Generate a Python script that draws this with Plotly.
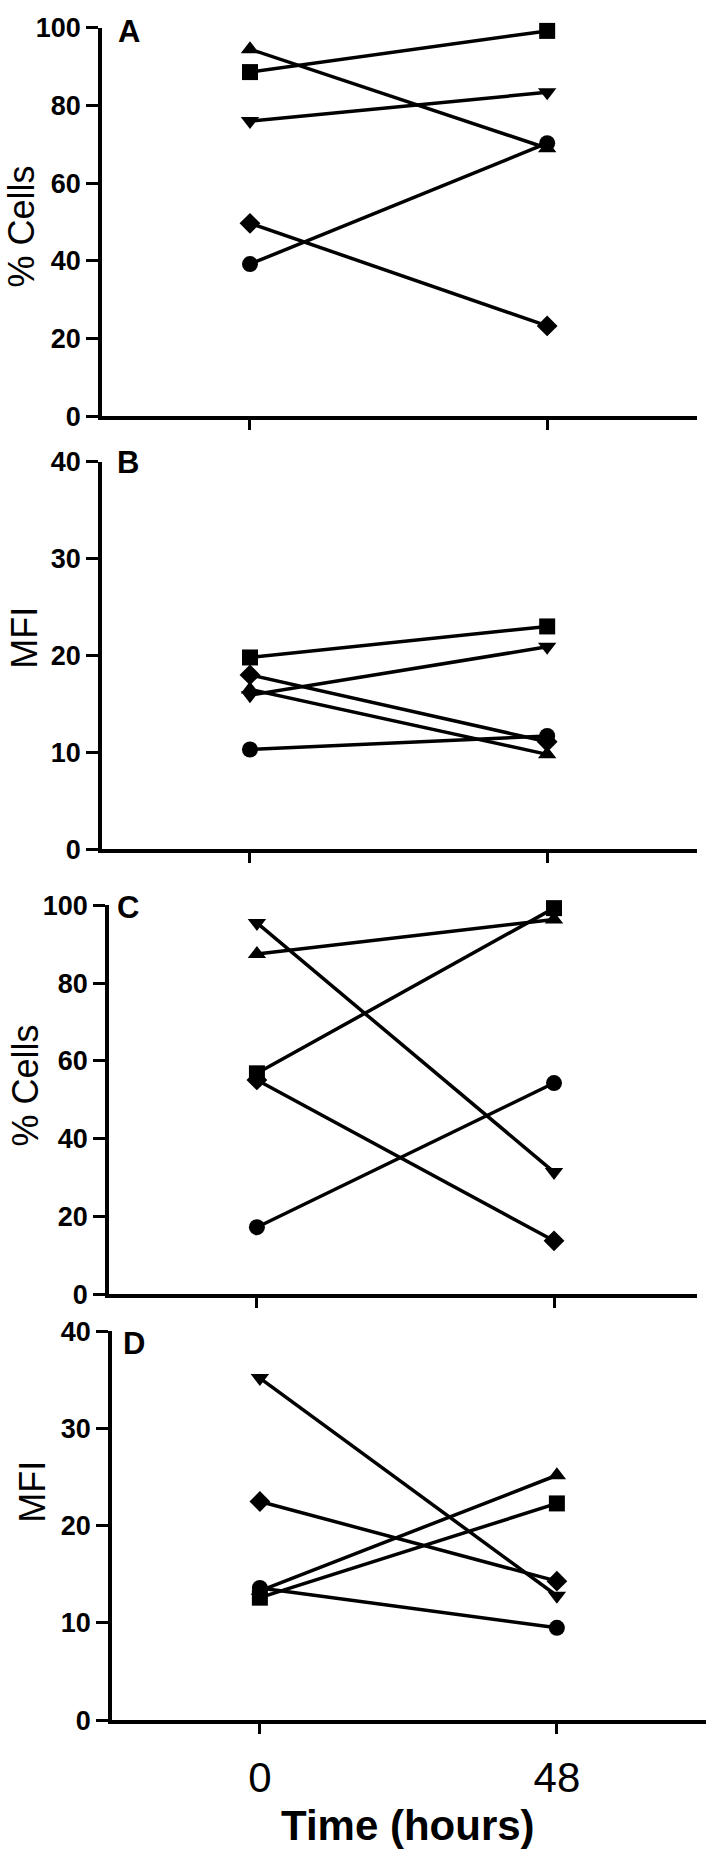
import plotly.graph_objects as go

# ---------------- data ----------------
time_h = [0, 48]
x_tick_labels = ["0", "48"]
symbols = ["square", "triangle-up", "triangle-down", "diamond", "circle"]

# Panel A: % Cells
A_0h = [88.6, 94.5, 76.0, 49.7, 39.2]
A_48h = [99.2, 69.0, 83.4, 23.3, 70.3]
# Panel B: MFI
B_0h = [19.8, 16.5, 15.9, 18.0, 10.3]
B_48h = [23.0, 9.8, 20.9, 11.1, 11.7]
# Panel C: % Cells
C_0h = [56.8, 87.5, 95.5, 55.1, 17.2]
C_48h = [99.3, 96.4, 31.4, 13.7, 54.3]
# Panel D: MFI
D_0h = [12.6, 13.3, 35.2, 22.5, 13.6]
D_48h = [22.3, 25.2, 12.8, 14.3, 9.5]

panel_letters = ["A", "B", "C", "D"]
y_titles = ["% Cells", "MFI", "% Cells", "MFI"]
y_max = [100, 40, 100, 40]
y_step = [20, 10, 20, 10]

# ---------------- layout helpers ----------------
W, H = 709, 1863
def px(x):
    return x / W
def py(y):
    return 1 - y / H

panels = [
    dict(x0=102, x1=697, top=13, bot=408, r=[-23.9, 72.2]),
    dict(x0=102, x1=697, top=454, bot=848, r=[-23.9, 72.2]),
    dict(x0=109, x1=697, top=905, bot=1300, r=[-23.9, 71.1]),
    dict(x0=112, x1=706, top=1338, bot=1733, r=[-23.9, 72.1]),
]
data_sets = [(A_0h, A_48h), (B_0h, B_48h), (C_0h, C_48h), (D_0h, D_48h)]

fig = go.Figure()
tick_family = "Liberation Sans Narrow, Arial Narrow, Liberation Sans, Arial"
for i, ((v0, v48), p) in enumerate(zip(data_sets, panels)):
    xa = "x" if i == 0 else f"x{i+1}"
    ya = "y" if i == 0 else f"y{i+1}"
    for s, a, b in zip(symbols, v0, v48):
        fig.add_trace(go.Scatter(
            x=time_h, y=[a, b], xaxis=xa, yaxis=ya,
            mode="lines+markers", cliponaxis=False,
            line=dict(color="black", width=3.5),
            marker=dict(symbol=s, size=16, color="black",
                        line=dict(width=0)),
            showlegend=False, hoverinfo="skip"))
    xkey = "xaxis" if i == 0 else f"xaxis{i+1}"
    ykey = "yaxis" if i == 0 else f"yaxis{i+1}"
    last = (i == 3)
    fig.update_layout(**{
        xkey: dict(
            domain=[px(p["x0"]), px(p["x1"])], range=p["r"],
            anchor=ya, showline=True, linewidth=3.5, linecolor="black",
            ticks="outside", ticklen=10, tickwidth=3, tickcolor="black",
            tickvals=time_h, ticktext=x_tick_labels,
            showticklabels=last, ticklabelstandoff=8 if last else 0,
            tickfont=dict(family="Liberation Sans, Arial", size=42, color="black"),
            showgrid=False, zeroline=False, fixedrange=True),
        ykey: dict(
            domain=[py(p["bot"]), py(p["top"])], range=[0, y_max[i]],
            anchor=xa, showline=True, linewidth=3.5, linecolor="black",
            ticks="outside", ticklen=12, tickwidth=3, tickcolor="black",
            tick0=0, dtick=y_step[i],
            tickfont=dict(family=tick_family, size=27, color="black", weight="bold"),
            showgrid=False, zeroline=False, fixedrange=True),
    })

# panel letters
letter_pos = [(129, 17), (128, 455), (128, 907), (134, 1350)]
for L, (lx, ly) in zip(panel_letters, letter_pos):
    fig.add_annotation(text=L, x=px(lx), y=py(ly), xref="paper", yref="paper",
                       xanchor="center", yanchor="middle", showarrow=False,
                       font=dict(family="Liberation Sans, Arial", size=31,
                                 color="black", weight="bold"))

# y titles
title_pos = [(22, 215), (25, 633), (25, 1088), (33, 1501)]
for t, (tx, ty) in zip(y_titles, title_pos):
    fig.add_annotation(text=t, x=px(tx), y=py(ty), xref="paper", yref="paper",
                       xanchor="center", yanchor="middle", showarrow=False,
                       textangle=-90,
                       font=dict(family="Liberation Sans, Arial", size=36, color="black"))

# x title
fig.add_annotation(text="Time (hours)", x=px(408), y=py(1840), xref="paper", yref="paper",
                   xanchor="center", yanchor="middle", showarrow=False,
                   font=dict(family="Liberation Sans, Arial", size=42,
                             color="black", weight="bold"))

fig.update_layout(width=W, height=H, margin=dict(l=0, r=0, t=0, b=0),
                  paper_bgcolor="white", plot_bgcolor="white", showlegend=False)

fig.write_html("out.html", config={"displayModeBar": False},
               post_script="document.body.style.margin='0';document.body.style.overflow='hidden';")
